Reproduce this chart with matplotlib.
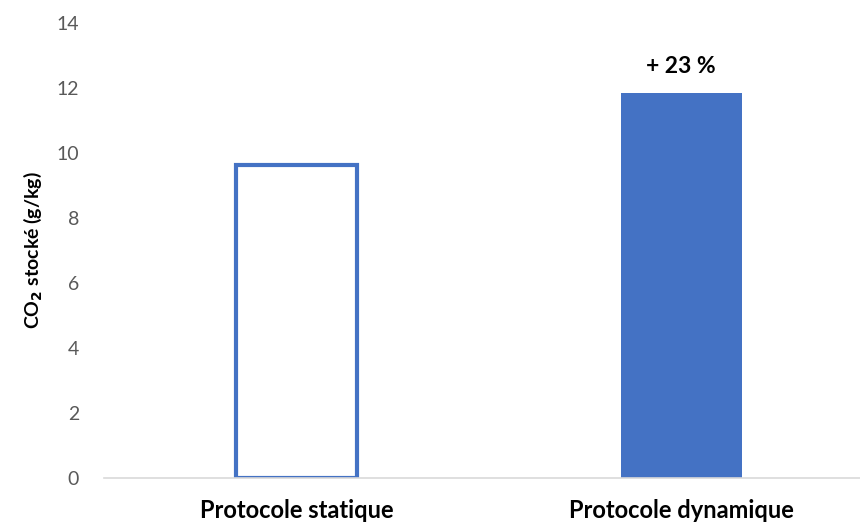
import matplotlib.pyplot as plt

# Données
categories = ["Protocole statique", "Protocole dynamique"]
co2_stocke = [9.62, 11.84]
annotation = "+ 23 %"

plt.rcParams['font.family'] = ['Lato', 'DejaVu Sans']

fig = plt.figure(figsize=(8.6, 5.24), dpi=100)
ax = fig.add_axes([0.121, 0.0878, 0.879, 0.8683])

x = list(range(len(categories)))
bleu = '#4472C4'

# Barre creuse (statique) et barre pleine (dynamique)
ax.bar(x[0], co2_stocke[0], width=0.315, facecolor='white',
       edgecolor=bleu, linewidth=3)
ax.bar(x[1], co2_stocke[1], width=0.315, color=bleu)

# Texte au-dessus de la barre dynamique
ax.text(x[1], co2_stocke[1] + 0.5, annotation, ha='center', va='bottom',
        fontsize=16.5, fontweight='bold', color='black')

ax.set_ylim(0, 14)
ax.set_xlim(-0.5, 1.465)
ax.set_yticks(range(0, 15, 2))
ax.set_xticks(x)
ax.set_xticklabels(categories, fontsize=17, fontweight='bold', color='black')
ax.tick_params(axis='y', length=0, labelsize=14, labelcolor='#595959', pad=18)
ax.tick_params(axis='x', length=0, pad=15)

ax.set_ylabel("CO$_\\mathbf{2}$ stocké (g/kg)", fontsize=14, fontweight='bold',
              labelpad=9)

for s in ['top', 'right', 'left']:
    ax.spines[s].set_visible(False)
ax.spines['bottom'].set_color('#D9D9D9')
ax.spines['bottom'].set_linewidth(1.2)

fig.savefig("out.png", dpi=100)
